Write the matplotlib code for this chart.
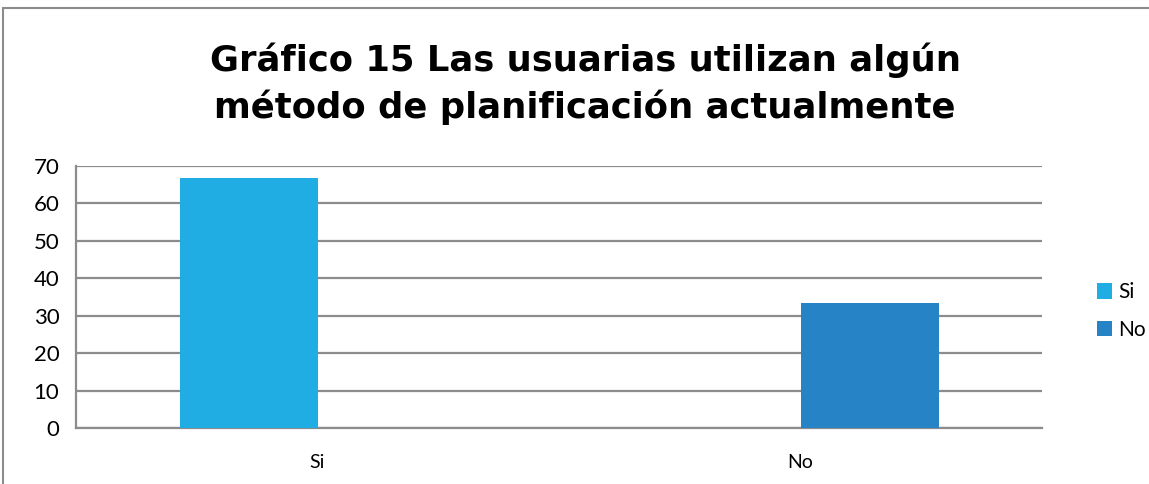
import matplotlib
matplotlib.use("Agg")
import matplotlib.pyplot as plt
from matplotlib.patches import Rectangle
import numpy as np

categories = ["Si", "No"]
series_names = ["Si", "No"]
si_values = [66.67, 0]
no_values = [0, 33.33]
yticks = [0, 10, 20, 30, 40, 50, 60, 70]
title = "Gráfico 15 Las usuarias utilizan algún\nmétodo de planificación actualmente"
colors = ["#1FADE4", "#2683C6"]

plt.rcParams["font.family"] = ["Lato", "DejaVu Sans"]

W, H = 1149, 484
fig = plt.figure(figsize=(W / 100, H / 100), dpi=100)
fig.patch.set_facecolor("white")

ax = fig.add_axes([76 / W, 1 - 428 / H, (1042 - 76) / W, (428 - 166) / H])
x = np.arange(len(categories))
bw = 138 / 483
ax.bar(x - bw / 2, si_values, bw, color=colors[0], label=series_names[0], zorder=3)
ax.bar(x + bw / 2, no_values, bw, color=colors[1], label=series_names[1], zorder=3)
ax.set_xlim(-0.5, 1.5)
ax.set_ylim(0, 70)
ax.set_yticks(yticks)
ax.set_xticks(x)
ax.set_xticklabels(categories)
ax.yaxis.grid(True, color="#8C8C8C", linewidth=1.6, zorder=0)
ax.set_axisbelow(True)
for s in ["top", "right"]:
    ax.spines[s].set_visible(False)
for s in ["left", "bottom"]:
    ax.spines[s].set_color("#8C8C8C")
    ax.spines[s].set_linewidth(1.6)
ax.tick_params(axis="both", length=0, labelsize=16, colors="black")
ax.tick_params(axis="y", pad=12)
ax.tick_params(axis="x", pad=19)
for lab in ax.get_xticklabels():
    lab.set_fontsize(14)

fig.text(0.5 * (205 + 965) / W, 1 - 84 / H, title, ha="center", va="center",
         fontsize=25.5, fontweight="bold", linespacing=1.4, family="DejaVu Sans")

leg = fig.legend(loc="center left", bbox_to_anchor=(1078 / W, 1 - 311 / H),
                 frameon=False, fontsize=15, handlelength=0.75, handleheight=0.75,
                 handletextpad=0.3, labelspacing=0.85)

fig.patches.append(Rectangle((3 / W, -0.05), 1.1, 1 - 8 / H + 0.05,
                             transform=fig.transFigure, fill=False,
                             edgecolor="#8C8C8C", linewidth=1.5))

fig.savefig("out.png", dpi=100)
